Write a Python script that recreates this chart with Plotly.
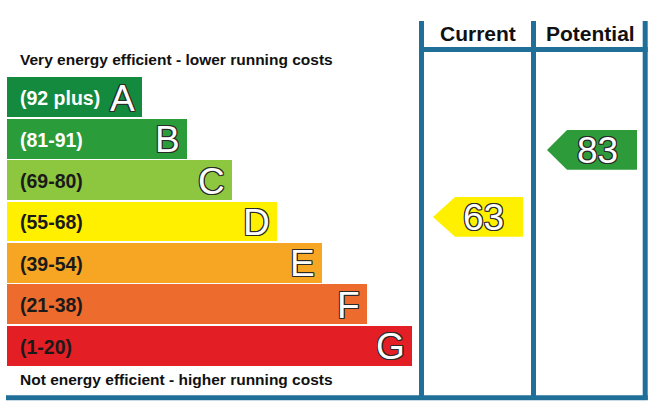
import plotly.graph_objects as go

# ---- data ----
bands = ["A", "B", "C", "D", "E", "F", "G"]
ranges = ["(92 plus)", "(81-91)", "(69-80)", "(55-68)", "(39-54)", "(21-38)", "(1-20)"]
band_colors = ["#138a3d", "#2a9c3a", "#8dc63f", "#fff000", "#f6a623", "#ec6b2d", "#e31e24"]
range_text_colors = ["white", "white", "#1a1a1a", "#1a1a1a", "#1a1a1a", "#1a1a1a", "#1a1a1a"]
current_rating = 63
potential_rating = 83
current_color = "#fff000"
potential_color = "#2e9b3b"

# ---- layout constants (pixel space) ----
W, H = 656, 407
BAR_LEFT = 6.7
BAR_LEN0 = 135.0
BAR_STEP = 45.0
ROW0 = 97.25
ROW_PITCH = 41.4
BAR_H = 39.8
BLUE = "#1f6f98"

# rating -> vertical pixel position for the arrows
def rating_y(v):
    return 93.0 + 3.35 * (100 - v)

centers = [ROW0 + i * ROW_PITCH for i in range(len(bands))]
lengths = [BAR_LEN0 + i * BAR_STEP for i in range(len(bands))]

fig = go.Figure()
fig.add_trace(go.Bar(
    orientation="h", y=centers, x=lengths, base=BAR_LEFT, width=BAR_H,
    marker=dict(color=band_colors, line=dict(width=0)), hoverinfo="skip",
))

outline = "-1px -1px 0 #2a2a2a, 1px -1px 0 #2a2a2a, -1px 1px 0 #2a2a2a, 1px 1px 0 #2a2a2a, 0 1px 0 #2a2a2a, 0 -1px 0 #2a2a2a, 1px 0 0 #2a2a2a, -1px 0 0 #2a2a2a"

ann = []
for i, b in enumerate(bands):
    ann.append(dict(x=BAR_LEFT + 11, y=centers[i] + 1, text=ranges[i], showarrow=False,
                    xanchor="left", yanchor="middle",
                    font=dict(family="Liberation Sans, Arial", size=19.5, color=range_text_colors[i], weight="bold")))
    ann.append(dict(x=BAR_LEFT + lengths[i] - 5, y=centers[i] + 1, text=b, showarrow=False,
                    xanchor="right", yanchor="middle",
                    font=dict(family="Liberation Sans, Arial", size=37, color="white", shadow=outline)))

# arrows
def arrow(x_tip, x_right, notch, v, color):
    yc = rating_y(v)
    h = BAR_H / 2
    xs = [x_tip, x_tip + notch, x_right, x_right, x_tip + notch, x_tip]
    ys = [yc, yc - h, yc - h, yc + h, yc + h, yc]
    fig.add_trace(go.Scatter(x=xs, y=ys, fill="toself", fillcolor=color, mode="lines",
                             line=dict(width=0, color=color), hoverinfo="skip"))
    ann.append(dict(x=(x_tip + x_right) / 2 + 5, y=yc + 1, text=str(v), showarrow=False,
                    xanchor="center", yanchor="middle",
                    font=dict(family="Liberation Sans, Arial", size=37, color="white", shadow=outline)))

arrow(433, 523, 22, current_rating, current_color)
arrow(547, 637, 20, potential_rating, potential_color)

# captions
ann.append(dict(x=18, y=59, text="Very energy efficient - lower running costs", showarrow=False,
                xanchor="left", yanchor="middle",
                font=dict(family="Liberation Sans, Arial", size=15.5, color="#111", weight="bold")))
ann.append(dict(x=18, y=379.5, text="Not energy efficient - higher running costs", showarrow=False,
                xanchor="left", yanchor="middle",
                font=dict(family="Liberation Sans, Arial", size=15.5, color="#111", weight="bold")))
ann.append(dict(x=477.5, y=33, text="Current", showarrow=False, xanchor="center", yanchor="middle",
                font=dict(family="Liberation Sans, Arial", size=21, color="#111", weight="bold")))
ann.append(dict(x=590, y=33, text="Potential", showarrow=False, xanchor="center", yanchor="middle",
                font=dict(family="Liberation Sans, Arial", size=21, color="#111", weight="bold")))

# frame lines
lw = 5
shapes = [
    dict(type="line", x0=421.5, x1=421.5, y0=21, y1=400, line=dict(color=BLUE, width=lw)),
    dict(type="line", x0=533.5, x1=533.5, y0=21, y1=400, line=dict(color=BLUE, width=lw)),
    dict(type="line", x0=645.2, x1=645.2, y0=21, y1=400, line=dict(color=BLUE, width=lw)),
    dict(type="line", x0=419, x1=647.7, y0=49.5, y1=49.5, line=dict(color=BLUE, width=lw)),
    dict(type="line", x0=6, x1=647.7, y0=397.7, y1=397.7, line=dict(color=BLUE, width=lw)),
]

fig.update_layout(
    width=W, height=H, margin=dict(l=0, r=0, t=0, b=0),
    paper_bgcolor="white", plot_bgcolor="white", showlegend=False,
    xaxis=dict(range=[0, W], visible=False, fixedrange=True),
    yaxis=dict(range=[H, 0], visible=False, fixedrange=True),
    annotations=ann, shapes=shapes, bargap=0,
)
fig.write_html("out.html")
